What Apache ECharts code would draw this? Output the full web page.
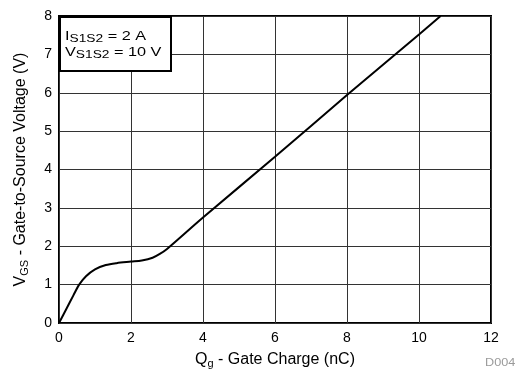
<!DOCTYPE html>
<html>
<head>
<meta charset="utf-8">
<script src="https://cdn.jsdelivr.net/npm/echarts@6/dist/echarts.min.js"></script>
<style>
  html, body { margin: 0; padding: 0; background: #fff; }
  #chart { width: 522px; height: 377px; }
</style>
</head>
<body>
<div id="chart"></div>
<script>
// gate charge (nC) vs gate-to-source voltage (V)
var qg  = [0, 0.2, 0.4, 0.56, 0.75, 1.0, 1.3, 1.6, 2.0, 2.3, 2.6, 2.8, 3.0, 4.0, 6.0, 8.0, 10.0, 10.6];
var vgs = [0, 0.36, 0.72, 1.0, 1.22, 1.4, 1.51, 1.56, 1.6, 1.63, 1.7, 1.8, 1.93, 2.75, 4.33, 5.94, 7.52, 8.0];
var xTicks = [0, 2, 4, 6, 8, 10, 12];
var yTicks = [0, 1, 2, 3, 4, 5, 6, 7, 8];

var font = "'Liberation Sans', Arial, sans-serif";
var chart = echarts.init(document.getElementById('chart'));

var pts = [];
for (var i = 0; i < qg.length; i++) pts.push([qg[i], vgs[i]]);

var nameRich = {
  n: { fontSize: 16, fontFamily: font, color: '#000', lineHeight: 18 },
  s: { fontSize: 11, fontFamily: font, color: '#000', lineHeight: 18, padding: [8, 0, 0, 0] }
};

chart.setOption({
  animation: false,
  grid: { left: 59, right: 31, top: 16, bottom: 54, show: true, borderColor: '#000', borderWidth: 2, backgroundColor: 'transparent' },
  xAxis: {
    type: 'value', min: xTicks[0], max: xTicks[xTicks.length - 1], interval: 2,
    axisLine: { show: false },
    axisTick: { show: false },
    axisLabel: { color: '#000', fontSize: 14, fontFamily: font, margin: 8 },
    splitLine: { lineStyle: { color: '#333', width: 1 } },
    name: '{n|Q}{s|g}{n| - Gate Charge (nC)}',
    nameLocation: 'middle', nameGap: 28,
    nameTextStyle: { rich: nameRich }
  },
  yAxis: {
    type: 'value', min: yTicks[0], max: yTicks[yTicks.length - 1], interval: 1,
    axisLine: { show: false },
    axisTick: { show: false },
    axisLabel: { color: '#000', fontSize: 14, fontFamily: font, margin: 7 },
    splitLine: { lineStyle: { color: '#333', width: 1 } },
    name: '{n|V}{s|GS}{n| - Gate-to-Source Voltage (V)}',
    nameLocation: 'middle', nameGap: 29, nameRotate: 90,
    nameTextStyle: { rich: nameRich }
  },
  series: [{
    type: 'line',
    data: pts,
    smooth: 0.3,
    showSymbol: false,
    lineStyle: { color: '#000', width: 2 },
    z: 3
  }],
  graphic: [
    {
      type: 'rect', left: 59, top: 16, z: 10,
      shape: { width: 111, height: 54 },
      style: { fill: '#fff', stroke: '#000', lineWidth: 2 }
    },
    {
      type: 'text', x: 65, y: 28, scaleX: 1.25, z: 11,
      style: {
        x: 0, y: 0, verticalAlign: 'top',
        text: '{n|I}{s|S1S2}{n| = 2 A}\n{n|V}{s|S1S2}{n| = 10 V}',
        rich: {
          n: { fontSize: 13, fontFamily: font, fill: '#000', lineHeight: 16 },
          s: { fontSize: 11, fontFamily: font, fill: '#000', lineHeight: 16, padding: [6, 0, 0, 0] }
        }
      }
    },
    {
      type: 'text', x: 485, y: 357, scaleX: 1.15, z: 11,
      style: { x: 0, y: 0, verticalAlign: 'top', text: 'D004', fontSize: 11, fontFamily: font, fill: '#9a9a9a' }
    }
  ]
});
</script>
</body>
</html>
